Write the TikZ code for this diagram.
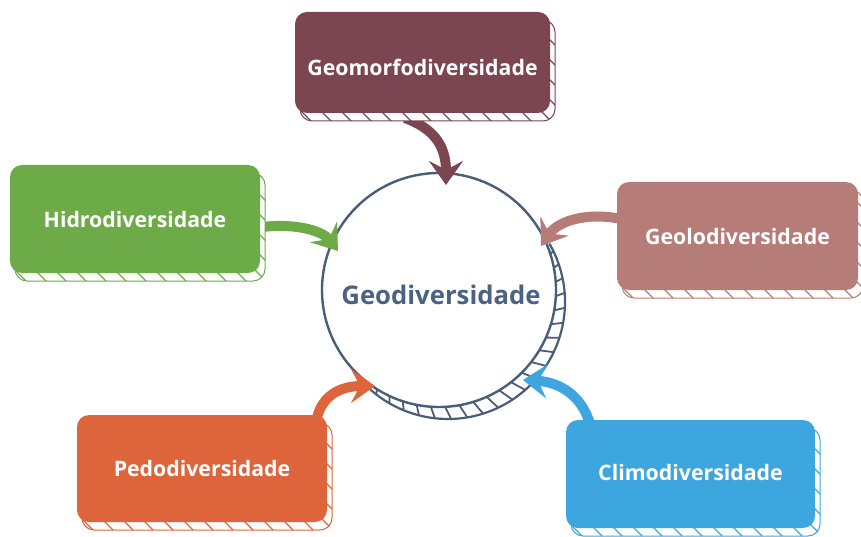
\documentclass[tikz,border=0pt]{standalone}
\usepackage{fontspec}
\setmainfont{Open Sans}
\usetikzlibrary{arrows.meta,calc}
\definecolor{cmorf}{HTML}{7B4651}
\definecolor{chidro}{HTML}{6DAB48}
\definecolor{cgeol}{HTML}{B67D78}
\definecolor{cpedo}{HTML}{DD643B}
\definecolor{cclim}{HTML}{3EA6DF}
\definecolor{cring}{HTML}{4A5D78}
\definecolor{ctitle}{HTML}{4B6282}
\tikzset{
  boxnode/.style={rounded corners=12pt, text=white, inner sep=0pt,
    font=\bfseries\fontsize{21.3}{25}\selectfont},
  flow/.style={line width=10pt, -{Stealth[length=24pt,width=34pt,inset=9pt]}},
}
\newcommand{\geobox}[8]{%
  \begin{scope}
    \clip[rounded corners=12pt] ({#2-#4/2+5},{#3-#5/2-8}) rectangle ({#2+#4/2+5},{#3+#5/2-8});
    \fill[white] ({#2-#4/2+5},{#3-#5/2-8}) rectangle ({#2+#4/2+5},{#3+#5/2-8});
    \foreach \k in {0,...,30}
      \draw[#6, line width=1.2pt] ({#2-#4/2+\k*20},{#3-#5/2-12}) -- ++(-170,170);
  \end{scope}
  \draw[#6, line width=1pt, rounded corners=12pt] ({#2-#4/2+5},{#3-#5/2-8}) rectangle ({#2+#4/2+5},{#3+#5/2-8});
  \node[boxnode, fill=#6, minimum width=#4pt, minimum height=#5pt] (#1) at (#2,#3) {};
  \node[boxnode, inner sep=0pt] (#1-t) at ($(#1.center)+(0,#8)$) {#7};
}
\begin{document}
\begin{tikzpicture}[x=1pt,y=1pt]
\useasboundingbox (0,0) rectangle (861,536);
% ring
\coordinate (c) at (439,246);
\coordinate (c2) at (448,234);
\begin{scope}
  \clip (c2) circle[radius=117];
  \foreach \a in {-136,-129,...,30}
    \draw[cring, line width=1.8pt] ($(c)+(\a:117)$) -- ($(c)+(\a+4:140)$);
\end{scope}
\draw[cring, line width=2.2pt] (c2) ++(30:117) arc[start angle=30, end angle=-144, radius=117];
\node[draw=cring, line width=2.4pt, circle, minimum size=234pt, inner sep=0pt] (geo) at (c) {};
\node[text=ctitle, font=\bfseries\fontsize{25.7}{30}\selectfont, inner sep=0pt] (geot) at (441,241) {Geodiversidade};
% arrows
\coordinate (a1) at (405,418);
\coordinate (a2) at (255,308);
\coordinate (a3) at (625,316);
\coordinate (a4) at (317,118);
\coordinate (a5) at (590,112);
\draw[flow, cmorf] (a1) .. controls (432,408) and (446,392) .. (446,351);
\draw[flow, chidro] (a2) .. controls (292,314) and (322,306) .. (338,285);
\draw[flow, cgeol] (a3) .. controls (595,324) and (560,318) .. (541,290);
\draw[flow, cpedo] (a4) .. controls (322,140) and (340,150) .. (375,150);
\draw[flow, cclim] (a5) .. controls (582,140) and (560,154) .. (523,156);
% boxes
\geobox{morf}{422.5}{473.5}{255}{101}{cmorf}{Geomorfodiversidade}{-5}
\geobox{hidro}{135}{317}{250}{108}{chidro}{Hidrodiversidade}{-1}
\geobox{geol}{737.5}{300}{241}{108}{cgeol}{Geolodiversidade}{-1}
\geobox{pedo}{202}{67.5}{250}{107}{cpedo}{Pedodiversidade}{0}
\geobox{clim}{690.5}{62}{249}{108}{cclim}{Climodiversidade}{1}
\end{tikzpicture}
\end{document}
